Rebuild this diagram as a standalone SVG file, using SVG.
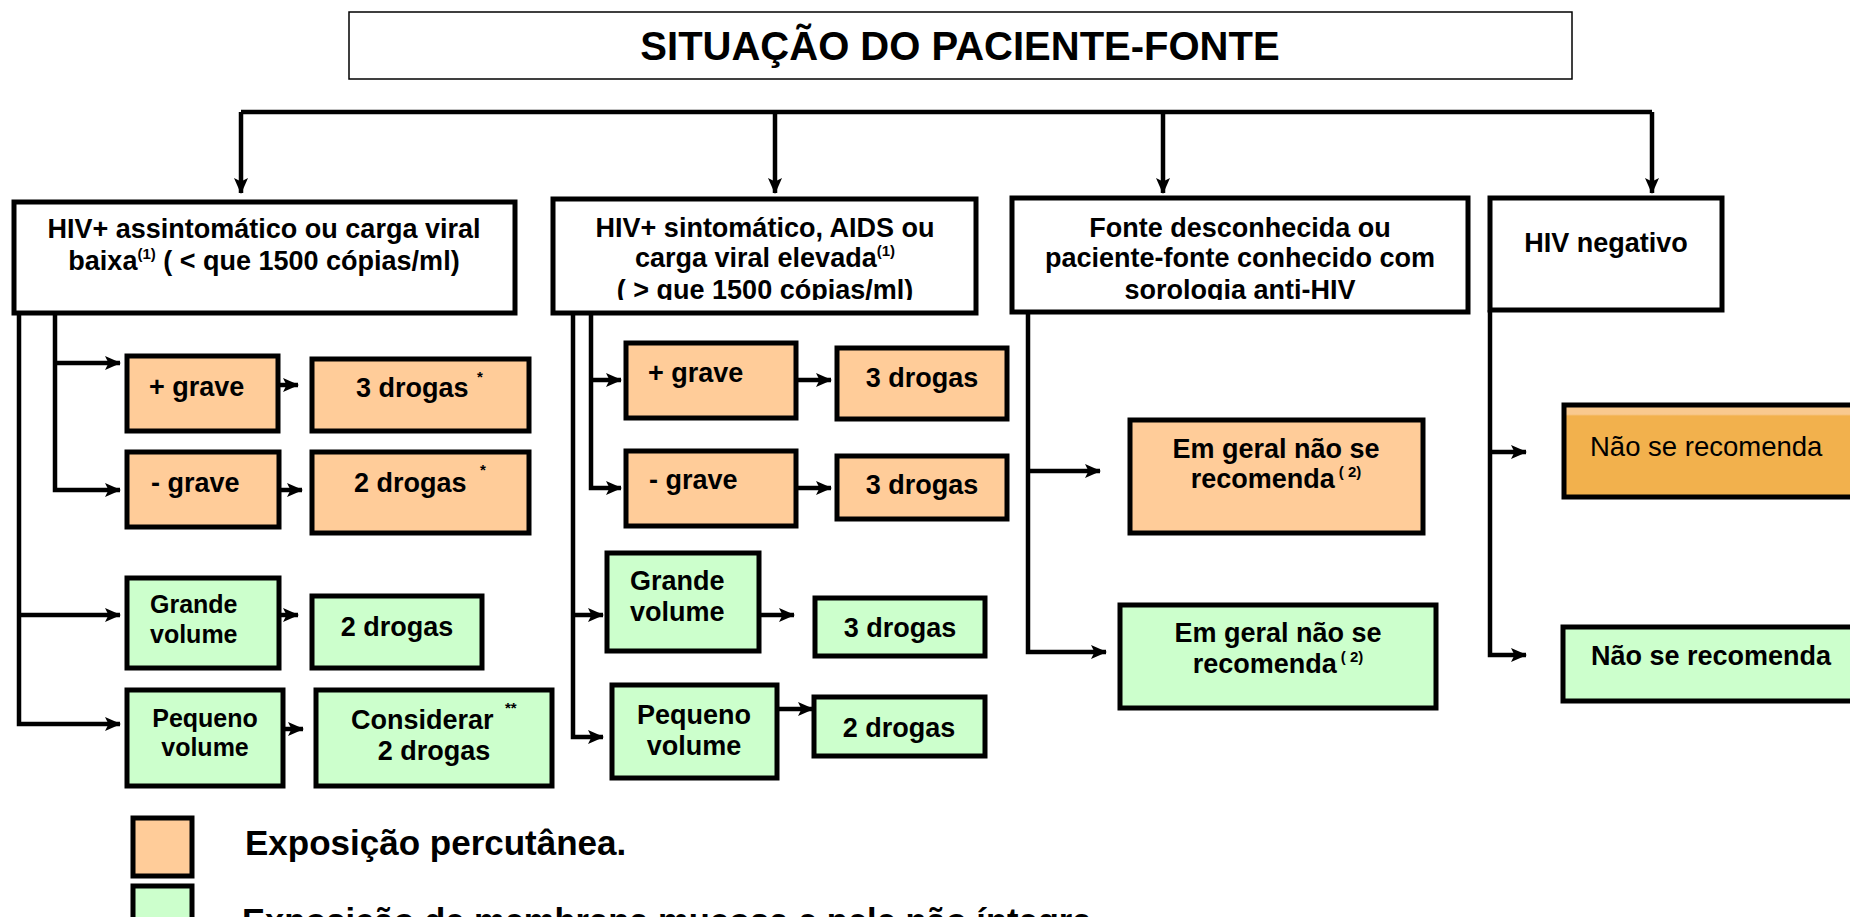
<svg xmlns="http://www.w3.org/2000/svg" width="1850" height="917" viewBox="0 0 1850 917">
<style>
text{font-family:"Liberation Sans",Arial,sans-serif;font-weight:bold;fill:#000}
.t27{font-size:27px}
.t25{font-size:25px}
.c{text-anchor:middle}
.box{stroke:#000;stroke-width:5}
.w{fill:#fff}
.o{fill:#FFCC99}
.g{fill:#CCFFCC}
.sup{font-size:15px}
.con{fill:none;stroke:#000;stroke-width:4.5}
</style>
<defs>
<marker id="ah" markerUnits="userSpaceOnUse" markerWidth="16" markerHeight="14" refX="15" refY="7" orient="auto">
<path d="M0,0 L16,7 L0,14 L3.5,7 z" fill="#000"/>
</marker>
<linearGradient id="og" x1="0" y1="0" x2="0" y2="1">
<stop offset="0" stop-color="#F9C98F"/>
<stop offset="0.1" stop-color="#F9C98F"/>
<stop offset="0.12" stop-color="#F2B14D"/>
<stop offset="1" stop-color="#F2B14D"/>
</linearGradient>
<clipPath id="clipTop">
<rect x="0" y="0" width="1850" height="300"/>
</clipPath>
</defs>
<rect width="1850" height="917" fill="#fff"/>

<g id="title">
<rect x="349" y="12" width="1223" height="67" fill="#fff" stroke="#000" stroke-width="1.5"/>
<text x="960" y="60" class="c" font-size="40">SITUAÇÃO DO PACIENTE-FONTE</text>
</g>

<g id="connectors">
<path class="con" d="M241,112 H1652" stroke-width="5"/>
<path class="con" d="M241,112 V193" marker-end="url(#ah)"/>
<path class="con" d="M775,112 V193" marker-end="url(#ah)"/>
<path class="con" d="M1163,112 V193" marker-end="url(#ah)"/>
<path class="con" d="M1652,112 V193" marker-end="url(#ah)"/>
<path class="con" d="M19,313 V724 H120" marker-end="url(#ah)"/>
<path class="con" d="M19,615 H120" marker-end="url(#ah)"/>
<path class="con" d="M55,313 V490 H120" marker-end="url(#ah)"/>
<path class="con" d="M55,363 H120" marker-end="url(#ah)"/>
<path class="con" d="M279,385 H298" marker-end="url(#ah)"/>
<path class="con" d="M279,490 H302" marker-end="url(#ah)"/>
<path class="con" d="M279,615 H298" marker-end="url(#ah)"/>
<path class="con" d="M283,729 H303" marker-end="url(#ah)"/>
<path class="con" d="M591,313 V488 H621" marker-end="url(#ah)"/>
<path class="con" d="M591,380 H621" marker-end="url(#ah)"/>
<path class="con" d="M573,313 V737 H603" marker-end="url(#ah)"/>
<path class="con" d="M573,615 H603" marker-end="url(#ah)"/>
<path class="con" d="M796,380 H831" marker-end="url(#ah)"/>
<path class="con" d="M796,488 H831" marker-end="url(#ah)"/>
<path class="con" d="M759,615 H794" marker-end="url(#ah)"/>
<path class="con" d="M777,709 H813" marker-end="url(#ah)"/>
<path class="con" d="M1028,313 V652 H1106" marker-end="url(#ah)"/>
<path class="con" d="M1028,471 H1100" marker-end="url(#ah)"/>
<path class="con" d="M1490,310 V655 H1526" marker-end="url(#ah)"/>
<path class="con" d="M1490,452 H1526" marker-end="url(#ah)"/>
</g>

<g id="hiv-assintomatico">
<rect class="box w" x="14" y="202" width="501" height="111"/>
<text class="t27 c" x="264" y="238">HIV+ assintomático ou carga viral</text>
<text class="t27 c" x="264" y="270">baixa<tspan class="sup" dy="-11">(1)</tspan><tspan dy="11"> ( &lt; que 1500 cópias/ml)</tspan></text>
</g>

<g id="hiv-sintomatico">
<rect class="box w" x="553" y="199" width="423" height="114"/>
<text class="t27 c" x="765" y="237">HIV+ sintomático, AIDS ou</text>
<text class="t27 c" x="765" y="267">carga viral elevada<tspan class="sup" dy="-11">(1)</tspan></text>
<text class="t27 c" x="765" y="299" clip-path="url(#clipTop)">( &gt; que 1500 cópias/ml)</text>
</g>

<g id="fonte-desconhecida">
<rect class="box w" x="1012" y="198" width="456" height="114"/>
<text class="t27 c" x="1240" y="237">Fonte desconhecida ou</text>
<text class="t27 c" x="1240" y="267">paciente-fonte conhecido com</text>
<text class="t27 c" x="1240" y="299" clip-path="url(#clipTop)">sorologia anti-HIV</text>
</g>

<g id="hiv-negativo">
<rect class="box w" x="1490" y="198" width="232" height="112"/>
<text class="t27 c" x="1606" y="252">HIV negativo</text>
</g>

<g id="c1-mais-grave">
<rect class="box o" x="127" y="356" width="151" height="75"/>
<text class="t27" x="149" y="396">+ grave</text>
</g>
<g id="c1-3drogas">
<rect class="box o" x="312" y="359" width="217" height="72"/>
<text class="t27" x="356" y="397">3 drogas</text>
<text class="sup" x="477" y="382">*</text>
</g>
<g id="c1-menos-grave">
<rect class="box o" x="127" y="452" width="152" height="75"/>
<text class="t27" x="151" y="492">- grave</text>
</g>
<g id="c1-2drogas">
<rect class="box o" x="312" y="452" width="217" height="81"/>
<text class="t27" x="354" y="492">2 drogas</text>
<text class="sup" x="480" y="475">*</text>
</g>
<g id="c1-grande">
<rect class="box g" x="127" y="578" width="152" height="90"/>
<text class="t25" x="150" y="613">Grande</text>
<text class="t25" x="150" y="643">volume</text>
</g>
<g id="c1-2drogas-g">
<rect class="box g" x="312" y="596" width="170" height="72"/>
<text class="t27 c" x="397" y="636">2 drogas</text>
</g>
<g id="c1-pequeno">
<rect class="box g" x="127" y="690" width="156" height="96"/>
<text class="t25 c" x="205" y="727">Pequeno</text>
<text class="t25 c" x="205" y="756">volume</text>
</g>
<g id="c1-considerar">
<rect class="box g" x="316" y="690" width="236" height="96"/>
<text class="t27" x="351" y="729">Considerar</text>
<text class="sup" x="505" y="713">**</text>
<text class="t27 c" x="434" y="760">2 drogas</text>
</g>

<g id="c2-mais-grave">
<rect class="box o" x="626" y="343" width="170" height="75"/>
<text class="t27" x="648" y="382">+ grave</text>
</g>
<g id="c2-3drogas-a">
<rect class="box o" x="837" y="348" width="170" height="71"/>
<text class="t27 c" x="922" y="387">3 drogas</text>
</g>
<g id="c2-menos-grave">
<rect class="box o" x="626" y="451" width="170" height="75"/>
<text class="t27" x="649" y="489">- grave</text>
</g>
<g id="c2-3drogas-b">
<rect class="box o" x="837" y="456" width="170" height="63"/>
<text class="t27 c" x="922" y="494">3 drogas</text>
</g>
<g id="c2-grande">
<rect class="box g" x="607" y="553" width="152" height="98"/>
<text class="t27" x="630" y="590">Grande</text>
<text class="t27" x="630" y="621">volume</text>
</g>
<g id="c2-3drogas-g">
<rect class="box g" x="815" y="598" width="170" height="58"/>
<text class="t27 c" x="900" y="637">3 drogas</text>
</g>
<g id="c2-pequeno">
<rect class="box g" x="612" y="685" width="165" height="93"/>
<text class="t27 c" x="694" y="724">Pequeno</text>
<text class="t27 c" x="694" y="755">volume</text>
</g>
<g id="c2-2drogas-g">
<rect class="box g" x="814" y="697" width="171" height="59"/>
<text class="t27 c" x="899" y="737">2 drogas</text>
</g>

<g id="c3-orange">
<rect class="box o" x="1130" y="420" width="293" height="113"/>
<text class="t27 c" x="1276" y="458">Em geral não se</text>
<text class="t27 c" x="1276" y="488">recomenda<tspan class="sup" dy="-11"> ( 2)</tspan></text>
</g>
<g id="c3-green">
<rect class="box g" x="1120" y="605" width="316" height="103"/>
<text class="t27 c" x="1278" y="642">Em geral não se</text>
<text class="t27 c" x="1278" y="673">recomenda<tspan class="sup" dy="-11"> ( 2)</tspan></text>
</g>

<g id="c4-orange">
<rect x="1564" y="405" width="300" height="92" fill="url(#og)" stroke="#000" stroke-width="5"/>
<text x="1590" y="456" font-size="27.5" style="font-weight:normal">Não se recomenda</text>
</g>
<g id="c4-green">
<rect class="box g" x="1563" y="627" width="300" height="74"/>
<text class="t27" x="1591" y="665">Não se recomenda</text>
</g>

<g id="legend">
<rect class="box o" x="133" y="818" width="59" height="58"/>
<text x="245" y="855" font-size="35">Exposição percutânea.</text>
<rect class="box g" x="133" y="886" width="59" height="60"/>
<text x="242" y="933" font-size="34.5">Exposição de membrana mucosa e pele não íntegra</text>
</g>
</svg>
